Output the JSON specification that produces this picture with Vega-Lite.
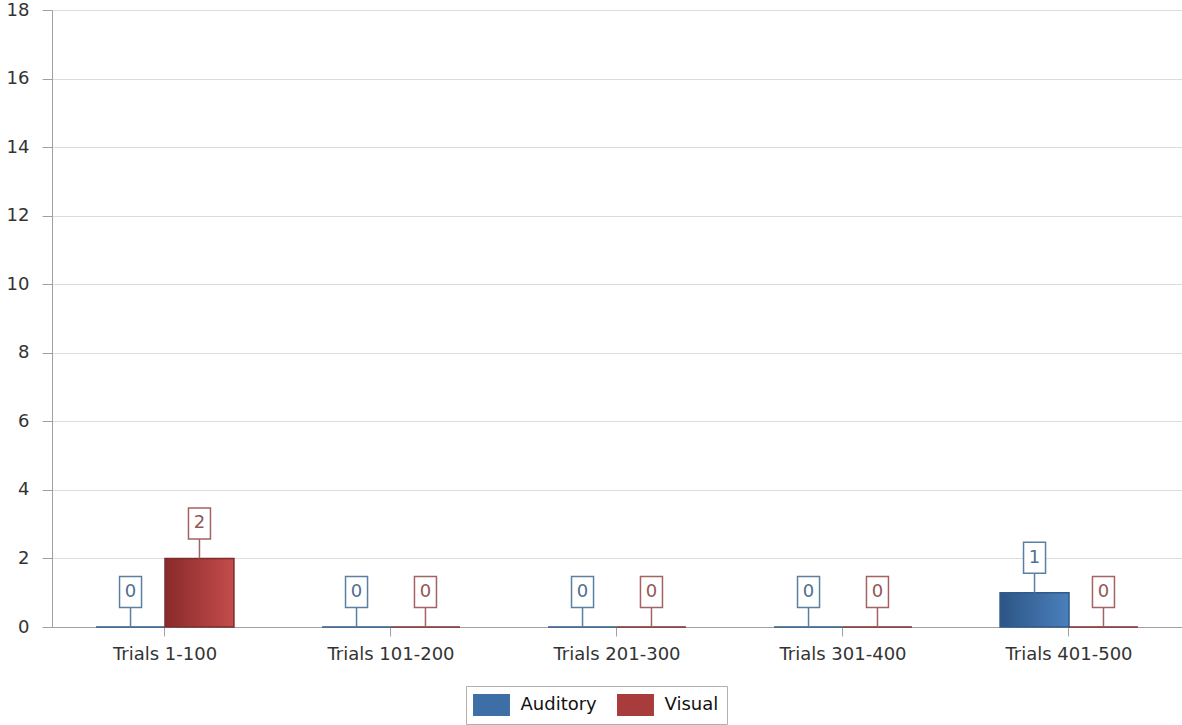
{
  "$schema": "https://vega.github.io/schema/vega-lite/v6.json",
  "width": 1130,
  "height": 617,
  "autosize": {"type": "none"},
  "padding": {"left": 52, "top": 10, "right": 0, "bottom": 98},
  "background": "white",
  "config": {
    "view": {"stroke": null},
    "font": "DejaVu Sans",
    "axis": {"labelFont": "DejaVu Sans", "labelColor": "#333", "labelFontSize": 18, "domainColor": "#a0a0a0", "tickColor": "#a0a0a0", "gridColor": "#dcdcdc", "title": null}
  },
  "data": {"values": [
    {"category": "Trials 1-100", "series": "Auditory", "value": 0},
    {"category": "Trials 1-100", "series": "Visual", "value": 2},
    {"category": "Trials 101-200", "series": "Auditory", "value": 0},
    {"category": "Trials 101-200", "series": "Visual", "value": 0},
    {"category": "Trials 201-300", "series": "Auditory", "value": 0},
    {"category": "Trials 201-300", "series": "Visual", "value": 0},
    {"category": "Trials 301-400", "series": "Auditory", "value": 0},
    {"category": "Trials 301-400", "series": "Visual", "value": 0},
    {"category": "Trials 401-500", "series": "Auditory", "value": 1},
    {"category": "Trials 401-500", "series": "Visual", "value": 0}
  ]},
  "encoding": {
    "x": {"field": "category", "type": "nominal", "sort": null,
      "scale": {"paddingInner": 0.39, "paddingOuter": 0.195},
      "axis": {"labelAngle": 0, "tickSize": 9, "labelPadding": 9, "grid": false}},
    "xOffset": {"field": "series", "type": "nominal", "scale": {"paddingInner": 0, "paddingOuter": 0}},
    "y": {"field": "value", "type": "quantitative",
      "scale": {"domain": [0, 18], "nice": false},
      "axis": {"values": [0, 2, 4, 6, 8, 10, 12, 14, 16, 18], "tickSize": 10, "labelPadding": 13, "grid": true}}
  },
  "layer": [
    {
      "mark": {"type": "bar", "strokeWidth": 0},
      "encoding": {
        "color": {"field": "series", "type": "nominal",
          "scale": {"domain": ["Auditory", "Visual"], "range": ["#3d6fa6", "#a83c3c"]},
          "legend": {
            "orient": "none", "legendX": 414, "legendY": 676, "direction": "horizontal", "title": null,
            "symbolType": "M-1.68,-1H1.68V1H-1.68Z", "symbolSize": 484, "symbolStrokeWidth": 0, "symbolOffset": 6.5,
            "labelFontSize": 18, "labelColor": "#111", "labelOffset": 18, "columnPadding": 20,
            "strokeColor": "#b0b0b0", "fillColor": "white", "padding": 8
          }
        }
      }
    },
    {
      "transform": [{"filter": "datum.series == 'Auditory'"}],
      "mark": {"type": "bar", "stroke": "#2f5a8a", "strokeWidth": 1.5,
        "fill": {"gradient": "linear", "x1": 0, "x2": 1, "y1": 0, "y2": 0,
          "stops": [{"offset": 0, "color": "#2c5585"}, {"offset": 1, "color": "#4b80bc"}]}}
    },
    {
      "transform": [{"filter": "datum.series == 'Visual'"}],
      "mark": {"type": "bar", "stroke": "#7e2d2d", "strokeWidth": 1.5,
        "fill": {"gradient": "linear", "x1": 0, "x2": 1, "y1": 0, "y2": 0,
          "stops": [{"offset": 0, "color": "#892a2a"}, {"offset": 1, "color": "#c44c4c"}]}}
    },
    {
      "mark": {"type": "rule", "y2Offset": -20, "strokeWidth": 1.5},
      "encoding": {
        "y2": {"field": "value"},
        "stroke": {"field": "series", "type": "nominal",
          "scale": {"domain": ["Auditory", "Visual"], "range": ["#5a7fa3", "#a46262"]}, "legend": null}
      }
    },
    {
      "mark": {"type": "point", "shape": "M-0.71,-1H0.71V1H-0.71Z", "size": 961, "filled": true, "fill": "white", "yOffset": -35, "strokeWidth": 1.5, "opacity": 1},
      "encoding": {
        "stroke": {"field": "series", "type": "nominal", "legend": null}
      }
    },
    {
      "mark": {"type": "text", "yOffset": -35, "baseline": "middle", "align": "center", "fontSize": 18, "font": "DejaVu Sans"},
      "encoding": {
        "text": {"field": "value", "type": "quantitative"},
        "fill": {"field": "series", "type": "nominal",
          "scale": {"domain": ["Auditory", "Visual"], "range": ["#4f6f90", "#955656"]}, "legend": null}
      }
    }
  ]
}
